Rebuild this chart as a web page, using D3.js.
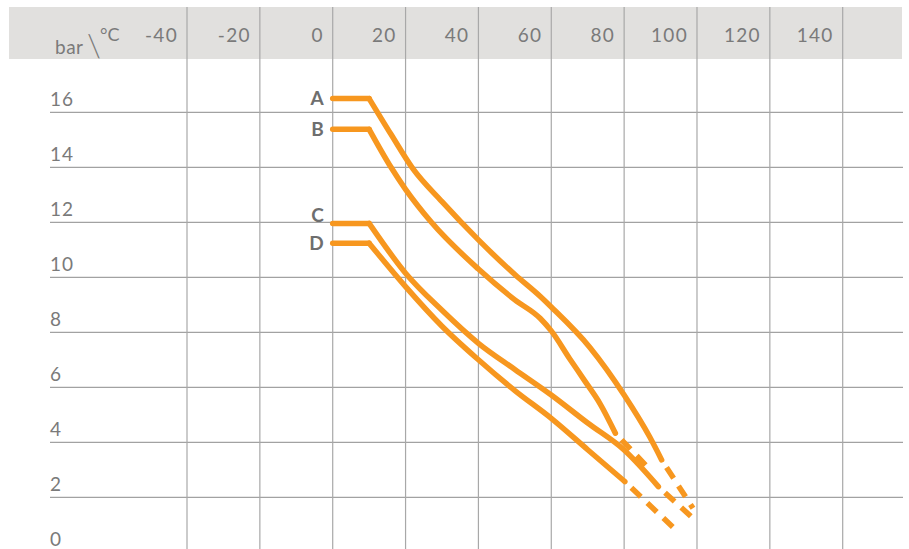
<!DOCTYPE html>
<html>
<head>
<meta charset="utf-8">
<script src="https://cdn.jsdelivr.net/npm/d3@7"></script>
<style>
  body { margin: 0; background: #fff; }
  text { font-family: Lato, "Open Sans", sans-serif; }
</style>
</head>
<body>
<div id="chart"></div>
<script>
// temperature ticks (°C) and pressure ticks (bar)
const tempTicks = [-40, -20, 0, 20, 40, 60, 80, 100, 120, 140];
const barTicks = [0, 2, 4, 6, 8, 10, 12, 14, 16];

// curve labels
const names = ["A", "B", "C", "D"];

// solid part of each curve [temp, bar]
const solidA = [[0, 16.5], [10, 16.5], [16, 15.2], [22, 13.95], [30, 12.75], [40, 11.36], [50, 10.1], [57, 9.3], [60, 8.92], [70.6, 7.45], [80, 5.72], [87, 4.2], [90.3, 3.36]];
const solidB = [[0, 15.38], [10, 15.38], [16, 14], [20, 13.2], [27.1, 12], [40, 10.3], [50, 9.18], [57, 8.5], [60, 8.05], [65, 7.05], [69, 6.27], [73.4, 5.4], [77.6, 4.33]];
const solidC = [[0, 11.96], [10, 11.96], [20, 10.15], [30, 8.8], [40, 7.6], [50, 6.65], [60, 5.72], [70, 4.7], [80, 3.72], [89.4, 2.39]];
const solidD = [[0, 11.24], [10, 11.24], [20, 9.66], [30, 8.22], [40, 7.0], [50, 5.88], [60, 4.87], [70, 3.73], [80.2, 2.57]];

// dashed continuation of each curve [temp, bar]
const dashA = [[90.3, 3.36], [98.9, 1.6]];
const dashB = [[77.6, 4.33], [87.3, 2.97]];
const dashC = [[89.4, 2.39], [99.2, 1.2]];
const dashD = [[80.2, 2.57], [94.3, 0.8]];

const solids = [solidA, solidB, solidC, solidD];
const dashes = [dashA, dashB, dashC, dashD];

const width = 909, height = 549;
const orange = "#f7971f";
const grey = "#7a7a7a";

const svg = d3.select("#chart").append("svg")
    .attr("width", width)
    .attr("height", height);

const x = d3.scaleLinear().domain([-40, 140]).range([187, 842.7]);
const y = d3.scaleLinear().domain([0, 16]).range([552.3, 112.3]);

// grey header band
svg.append("rect")
    .attr("x", 9).attr("y", 7)
    .attr("width", 893).attr("height", 52)
    .attr("fill", "#e1e0de");

// horizontal grid lines
svg.selectAll(".hgrid")
    .data(barTicks.filter(d => d > 0))
    .enter().append("line")
    .attr("x1", 50).attr("x2", 903)
    .attr("y1", d => y(d)).attr("y2", d => y(d))
    .attr("stroke", "#a2a2a2")
    .attr("stroke-width", 1.2);

// vertical grid lines
svg.selectAll(".vgrid")
    .data(tempTicks)
    .enter().append("line")
    .attr("x1", d => x(d)).attr("x2", d => x(d))
    .attr("y1", 7).attr("y2", height)
    .attr("stroke", "#a8a8a8")
    .attr("stroke-width", 1.2);

// temperature labels in the header
svg.selectAll(".tlabel")
    .data(tempTicks)
    .enter().append("text")
    .attr("x", d => x(d) - 9)
    .attr("y", 42)
    .attr("text-anchor", "end")
    .attr("font-size", 19)
    .attr("letter-spacing", 1.3)
    .attr("fill", grey)
    .text(d => d);

// corner label  bar\°C
svg.append("text").attr("x", 55).attr("y", 54)
    .attr("font-size", 19).attr("letter-spacing", 0.5).attr("fill", grey).text("bar");
svg.append("text").attr("x", 87).attr("y", 57)
    .attr("font-size", 32).attr("font-weight", 300).attr("fill", grey).text("\\");
svg.append("text").attr("x", 100).attr("y", 41)
    .attr("font-size", 18).attr("fill", grey).text("°C");

// pressure labels on the left
svg.selectAll(".blabel")
    .data(barTicks)
    .enter().append("text")
    .attr("x", 50)
    .attr("y", d => y(d) - 6)
    .attr("font-size", 19)
    .attr("letter-spacing", 1)
    .attr("fill", grey)
    .text(d => d);

const flat = d3.line().x(d => x(d[0])).y(d => y(d[1]));
const smooth = d3.line().x(d => x(d[0])).y(d => y(d[1])).curve(d3.curveMonotoneX);

solids.forEach((pts, i) => {
    // flat start
    svg.append("path")
        .attr("d", flat(pts.slice(0, 2)))
        .attr("fill", "none").attr("stroke", orange)
        .attr("stroke-width", 5.5).attr("stroke-linecap", "round");
    // falling part
    svg.append("path")
        .attr("d", smooth(pts.slice(1)))
        .attr("fill", "none").attr("stroke", orange)
        .attr("stroke-width", 5.5).attr("stroke-linecap", "round")
        .attr("stroke-linejoin", "round");
    // dashed tail
    svg.append("path")
        .attr("d", flat(dashes[i]))
        .attr("fill", "none").attr("stroke", orange)
        .attr("stroke-width", 5.5)
        .attr("stroke-dasharray", "13,9")
        .attr("stroke-dashoffset", 13);
    // curve name (C sits a little above its line)
    const shift = i === 2 ? -8 : 0;
    svg.append("text")
        .attr("x", x(0) - 9)
        .attr("y", y(pts[0][1]) + 6.5 + shift)
        .attr("text-anchor", "end")
        .attr("font-size", 19)
        .attr("font-weight", 700)
        .attr("fill", "#6e6e6e")
        .text(names[i]);
});
</script>
</body>
</html>
